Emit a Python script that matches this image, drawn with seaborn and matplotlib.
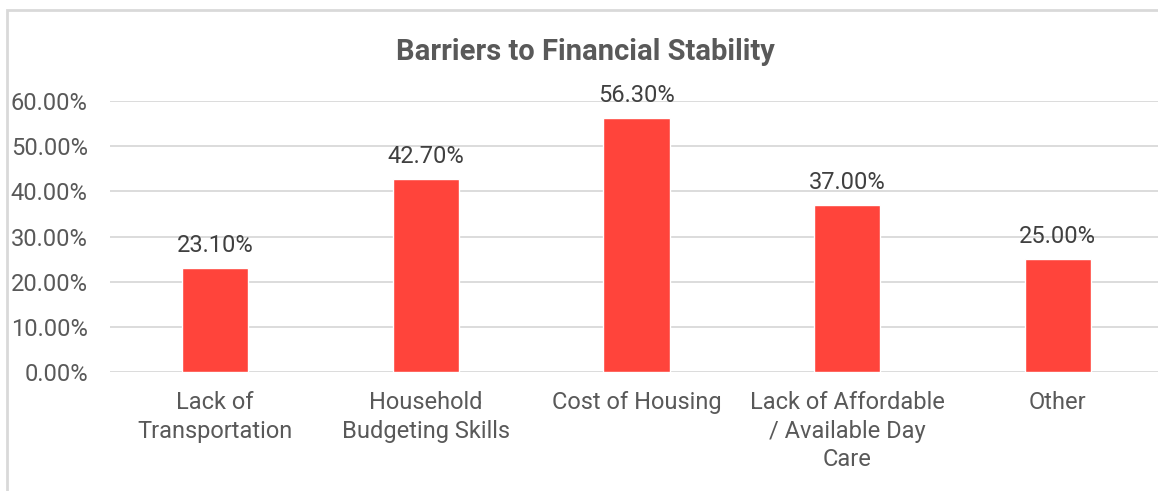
import matplotlib
matplotlib.use("Agg")
import matplotlib.pyplot as plt
import seaborn as sns
import pandas as pd
from matplotlib.patches import Rectangle
from matplotlib.ticker import FuncFormatter

categories = ["Lack of\nTransportation", "Household\nBudgeting Skills", "Cost of Housing",
              "Lack of Affordable\n/ Available Day\nCare", "Other"]
values = [0.231, 0.427, 0.563, 0.370, 0.250]
yticks = [0.0, 0.1, 0.2, 0.3, 0.4, 0.5, 0.6]
title = "Barriers to Financial Stability"

sns.set_theme(style="white")
plt.rcParams["font.family"] = ["Roboto", "DejaVu Sans"]

TXT = "#595959"
RED = "#FF443B"
GRID = "#D9D9D9"

df = pd.DataFrame({"cat": categories, "val": values})

fig = plt.figure(figsize=(11.58, 4.91), dpi=100)
ax = fig.add_axes([110/1158, (491-372)/491, (1163-110)/1158, (372-101)/491])

sns.barplot(data=df, x="cat", y="val", color=RED, width=0.315, saturation=1, ax=ax, zorder=3)

ax.set_ylim(0, 0.6)
ax.set_xlim(-0.5, 4.5)
ax.set_yticks(yticks)
ax.yaxis.set_major_formatter(FuncFormatter(lambda v, p: f"{v*100:.2f}%"))
ax.grid(axis="y", color=GRID, linewidth=1.3, zorder=0)
ax.set_axisbelow(True)
for s in ax.spines.values():
    s.set_visible(False)
ax.tick_params(axis="y", length=0, pad=16, labelsize=17, labelcolor=TXT)
ax.tick_params(axis="x", length=0, pad=14, labelsize=17, labelcolor=TXT)
for lbl in ax.get_xticklabels():
    lbl.set_linespacing(1.3)
ax.set_xlabel("")
ax.set_ylabel("")

for i, v in enumerate(values):
    ax.annotate(f"{v*100:.2f}%", (i, v), xytext=(0, 8), textcoords="offset points",
                ha="center", va="bottom", fontsize=17, color="#404040")

fig.text(585/1158, 1 - 52/491, title, ha="center", va="center", fontsize=21,
         color=TXT, weight="bold")

fig.patches.append(Rectangle((7/1158, -0.1), 1.2, 1 - 9.5/491 + 0.1, transform=fig.transFigure,
                             fill=False, edgecolor=GRID, linewidth=2))

fig.savefig("out.png", dpi=100)
